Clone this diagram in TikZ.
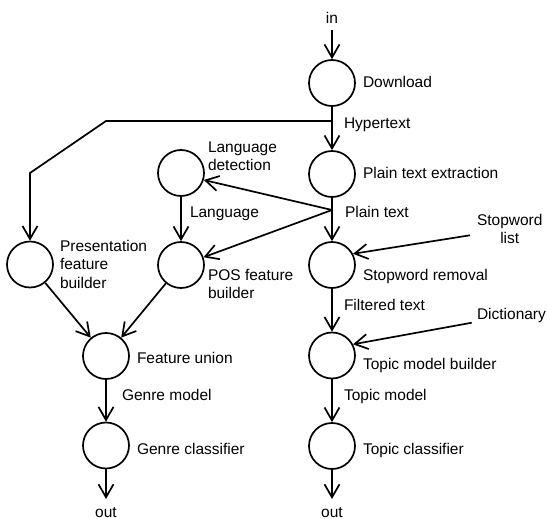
\documentclass[tikz,border=0pt]{standalone}
\usepackage{fontspec}
\setmainfont{Liberation Sans}
\usetikzlibrary{arrows.meta}
\tikzset{
  proc/.style={circle, draw, line width=1.7pt, minimum size=46pt, inner sep=0pt},
  lbl/.style={inner sep=0pt, outer sep=0pt, anchor=base west, align=left, font=\fontsize{15.5}{18.5}\selectfont},
  arr/.style={line width=1.7pt, -{Straight Barb[length=13pt,width=15pt]}},
  conn/.style={line width=1.7pt},
}
\begin{document}
\begin{tikzpicture}[x=1pt,y=-1pt]
\useasboundingbox (0,0) rectangle (547,519);
% process circles
\node[proc] (dl)  at (332,83) {};
\node[proc] (pte) at (332,174) {};
\node[proc] (stop) at (332,265) {};
\node[proc] (tmb) at (332,355.5) {};
\node[proc] (tc)  at (332,446) {};
\node[proc] (ld)  at (181,173) {};
\node[proc] (pos) at (181,265) {};
\node[proc] (pfb) at (30,264.5) {};
\node[proc] (fu)  at (106,356) {};
\node[proc] (gc)  at (106,445.5) {};
% process labels
\node[lbl] at (363,87.5) {Download};
\node[lbl] at (363,178.3) {Plain text extraction};
\node[lbl] at (363,280.7) {Stopword removal};
\node[lbl] at (363,369.3) {Topic model builder};
\node[lbl] at (363,454) {Topic classifier};
\node[lbl] at (137,363.3) {Feature union};
\node[lbl] at (137,454) {Genre classifier};
\node[lbl, anchor=west] at (208,156) {Language\\detection};
\node[lbl, anchor=west] at (208,284) {POS feature\\builder};
\node[lbl, anchor=west] at (60,264) {Presentation\\feature\\builder};
% inputs / outputs
\node[lbl, anchor=base] (in) at (332,23.3) {in};
\node[lbl, anchor=base] (out1) at (106,517) {out};
\node[lbl, anchor=base] (out2) at (332,517) {out};
\node[lbl, anchor=west, align=center, inner xsep=7pt] (swl) at (470,229) {Stopword\\list};
\node[lbl, anchor=west, inner xsep=7pt] (dict) at (470,315.5) {Dictionary};
% junctions
\coordinate (j1) at (332,121);
\coordinate (j2) at (332,210);
\coordinate (b1) at (106,121);
\coordinate (b2) at (30,173);
% connectors
\draw[arr, shorten <=6.5pt] (in) -- (dl);
\draw[arr] (dl) -- (pte);
\draw[arr] (j1) -- (b1) -- (b2) -- (pfb);
\draw[arr] (pte) -- (stop);
\draw[arr] (j2) -- (ld.-17);
\draw[arr] (j2) -- (pos.19);
\draw[arr] (ld) -- (pos);
\draw[arr] (pfb) -- (fu);
\draw[arr] (pos) -- (fu);
\draw[arr] (fu) -- (gc);
\draw[arr, shorten >=8pt] (gc) -- (out1);
\draw[arr] (stop) -- (tmb);
\draw[arr] (swl) -- (stop.28);
\draw[arr] (dict) -- (tmb.28);
\draw[arr] (tmb) -- (tc);
\draw[arr, shorten >=8pt] (tc) -- (out2);
% edge labels
\node[lbl] at (344,128.3) {Hypertext};
\node[lbl] at (345,217.3) {Plain text};
\node[lbl] at (190,217.7) {Language};
\node[lbl] at (344,310.7) {Filtered text};
\node[lbl] at (344,400) {Topic model};
\node[lbl] at (122,400) {Genre model};
\end{tikzpicture}
\end{document}
